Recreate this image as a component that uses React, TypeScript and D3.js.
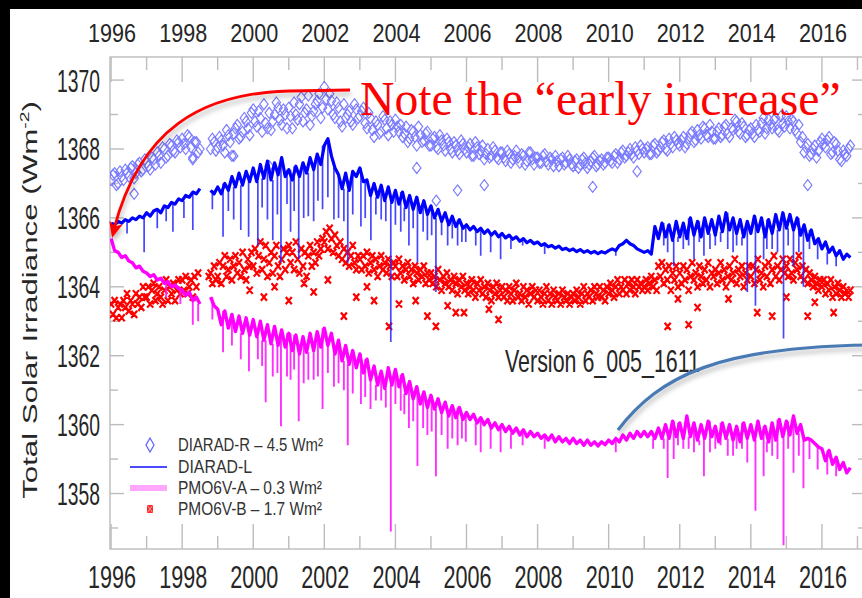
import React from "react";
import * as d3 from "d3";

// ---- axis ticks -------------------------------------------------------
const YEAR_LABELS = [1996, 1998, 2000, 2002, 2004, 2006, 2008, 2010, 2012, 2014, 2016];
const YEAR_TICKS = d3.range(1996, 2018);
const TSI_LABELS = [1358, 1360, 1362, 1364, 1366, 1368, 1370];
const TSI_TICKS = d3.range(1357, 1371);

// ---- series (W m^-2) ----------------------------------------------------
// Regularly tabulated readings: value i belongs to START + i * STEP (years).
const SERIES_START = 1996.0;
const HALF_START = 1996.05;
const LINE_STEP = 0.1;
const MARKER_STEP_B = 0.05;

// DIARAD-R (shifted by +4.5 W m^-2), open diamonds: readings on whole tenths
const diaradR: (number | null)[] = [
  1367.1, 1367.3, 1367.0, 1367.2, 1367.4, 1367.2, 1367.5, 1367.3, 1367.6, 1367.4,
  1367.6, 1367.4, 1367.7, 1367.9, 1367.6, 1368.0, 1367.8, 1368.1, 1367.9, 1368.2,
  1368.3, 1368.0, 1368.35, 1367.75, 1368.2, 1368.0, null, null, 1368.0, 1368.2,
  1368.05, 1368.25, 1367.9, 1368.4, 1367.8, 1368.6, 1368.3, 1368.5, 1368.8, 1368.4,
  1369.15, 1368.65, 1368.9, 1369.3, 1368.6, 1368.55, 1369.0, 1369.2, 1368.7, 1369.0,
  1369.2, 1368.6, 1369.0, 1369.3, 1368.8, 1369.15, 1368.7, 1369.1, 1369.4, 1368.9,
  1369.8, 1369.15, 1369.4, 1368.9, 1369.2, 1368.65, 1368.9, 1369.1, 1368.7, 1369.15,
  1368.95, 1369.2, 1368.6, 1368.9, 1368.35, 1368.7, 1368.5, 1368.85, 1368.4, 1368.7,
  1368.85, 1368.5, 1368.35, 1368.65, 1368.3, 1368.5, 1368.1, 1368.4, 1368.25, 1368.5,
  1368.1, 1368.35, 1368.0, 1368.25, 1367.95, 1368.2, 1367.9, 1368.1, 1367.85, 1368.15,
  1367.9, 1368.15, 1367.8, 1368.05, 1367.95, 1367.7, 1368.0, 1367.8, 1367.95, 1367.7,
  1367.9, 1367.65, 1367.85, 1367.7, 1367.95, 1367.6, 1367.8, 1367.65, 1367.9, 1367.55,
  1367.75, 1367.6, 1367.85, 1367.55, 1367.7, 1367.8, 1367.5, 1367.75, 1367.6, 1367.7,
  1367.5, 1367.7, 1367.55, 1367.75, 1367.45, 1367.65, 1367.8, 1367.55, 1367.7, 1367.6,
  1367.75, 1367.6, 1367.85, 1367.7, 1367.95, 1367.8, 1368.0, 1367.75, 1367.95, 1368.1,
  1367.9, 1368.05, 1367.85, 1368.15, 1367.95, 1368.2, 1368.0, 1368.3, 1368.05, 1368.25,
  1368.1, 1368.35, 1368.15, 1368.45, 1368.2, 1368.55, 1368.3, 1368.6, 1368.35, 1368.5,
  1368.3, 1368.6, 1368.4, 1368.7, 1368.35, 1368.55, 1368.8, 1368.45, 1368.65, 1368.4,
  1368.6, 1368.35, 1368.55, 1368.75, 1368.45, 1368.85, 1368.6, 1368.9, 1368.5, 1368.75,
  1368.95, 1368.6, 1368.8, 1368.45, 1368.2, 1367.9, 1368.15, 1367.85, 1368.1, 1367.95,
  1368.3, 1368.05, 1368.35, 1367.9, 1368.15, 1367.7, 1367.95, 1367.8, 1368.1,
];
// DIARAD-R readings in between (x.x5 years)
const diaradRHalf: (number | null)[] = [
  1367.25, 1366.95, 1367.35, 1367.1, 1367.3, 1367.45, 1367.15, 1367.55, 1367.35, 1367.7,
  1367.5, 1367.75, 1367.55, 1367.8, 1368.05, 1367.75, 1368.15, 1367.95, 1368.25, 1368.05,
  1368.15, 1368.4, 1368.05, 1368.2, 1367.9, null, null, null, 1368.3, 1367.95,
  1368.35, 1368.1, 1368.55, 1368.2, 1368.45, 1368.7, 1368.35, 1368.9, 1368.6, 1369.05,
  1368.8, 1369.1, 1368.5, 1368.75, 1369.05, 1368.8, 1369.35, 1368.85, 1369.15, 1368.6,
  1368.95, 1369.35, 1368.85, 1369.5, 1369.05, 1369.55, 1368.95, 1369.3, 1369.6, 1369.2,
  1369.45, 1369.6, 1369.0, 1369.35, 1368.8, 1369.3, 1369.0, 1368.8, 1369.3, 1368.9,
  1369.1, 1368.75, 1369.05, 1368.55, 1368.8, 1368.45, 1368.95, 1368.6, 1368.8, 1368.5,
  1368.65, 1368.7, 1368.45, 1368.2, 1368.55, 1368.35, 1368.65, 1368.2, 1368.45, 1368.1,
  1368.3, 1368.05, 1368.4, 1368.1, 1368.3, 1368.0, 1368.2, 1367.95, 1368.25, 1368.0,
  1368.05, 1367.8, 1368.2, 1367.85, 1368.1, 1367.85, 1367.75, 1368.05, 1367.75, 1367.9,
  1367.75, 1367.95, 1367.6, 1367.8, 1367.75, 1367.85, 1367.55, 1367.9, 1367.7, 1367.75,
  1367.6, 1367.8, 1367.65, 1367.75, 1367.5, 1367.65, 1367.7, 1367.55, 1367.8, 1367.55,
  1367.65, 1367.45, 1367.7, 1367.6, 1367.55, 1367.75, 1367.5, 1367.65, 1367.55, 1367.75,
  1367.65, 1367.8, 1367.6, 1367.9, 1367.75, 1367.9, 1367.85, 1368.05, 1367.85, 1368.0,
  1368.0, 1367.85, 1368.1, 1367.9, 1368.05, 1368.25, 1367.95, 1368.15, 1368.35, 1368.15,
  1368.25, 1368.05, 1368.3, 1368.5, 1368.25, 1368.4, 1368.65, 1368.4, 1368.7, 1368.3,
  1368.5, 1368.35, 1368.65, 1368.45, 1368.6, 1368.85, 1368.5, 1368.75, 1368.35, 1368.55,
  1368.45, 1368.7, 1368.5, 1368.9, 1368.6, 1368.7, 1368.85, 1368.55, 1368.95, 1368.65,
  1368.8, 1368.85, 1368.55, 1368.7, 1368.35, 1368.05, 1367.8, 1368.0, 1367.75, 1368.2,
  1368.15, 1368.25, 1367.85, 1368.2, 1367.95, 1367.65, 1367.85, 1368.0,
];
const diaradROutliers: [number, number][] = [
  [1996.65, 1366.7], [1998.3, 1367.7], [1999.45, 1367.8], [2000.45, 1367.5],
  [2004.6, 1367.45], [2005.15, 1366.5], [2005.75, 1366.8], [2006.5, 1366.95],
  [2009.55, 1366.9], [2010.8, 1367.35], [2015.6, 1366.95],
];

// DIARAD-L, line
const diaradL: (number | null)[] = [
  1365.85, 1365.8, 1365.9, 1365.85, 1365.95, 1365.9, 1366.0, 1365.95, 1366.05, 1366.0,
  1366.15, 1366.05, 1366.2, 1366.25, 1366.15, 1366.35, 1366.3, 1366.45, 1366.4, 1366.55,
  1366.5, 1366.65, 1366.6, 1366.75, 1366.7, 1366.85, null, null, 1366.8, 1366.7,
  1366.9, 1366.7, 1367.0, 1366.8, 1367.2, 1366.9, 1367.3, 1366.95, 1367.35, 1367.05,
  1367.45, 1367.05, 1367.55, 1367.15, 1367.65, 1367.1, 1367.6, 1367.25, 1367.75, 1367.2,
  1367.4, 1367.1, 1367.5, 1367.2, 1367.6, 1367.3, 1367.75, 1367.4, 1367.85, 1367.55,
  1368.1, 1368.3, 1367.8, 1367.45, 1367.25, 1366.85, 1367.3, 1366.8, 1367.35, 1367.2,
  1367.45, 1367.05, 1367.1, 1366.65, 1367.0, 1366.6, 1366.95, 1366.5, 1366.9, 1366.45,
  1366.8, 1366.4, 1366.75, 1366.3, 1366.65, 1366.25, 1366.6, 1366.15, 1366.5, 1366.1,
  1366.35, 1366.0, 1366.25, 1365.9, 1366.15, 1365.8, 1366.05, 1365.75, 1365.95, 1365.7,
  1365.8, 1365.65, 1365.75, 1365.6, 1365.7, 1365.55, 1365.65, 1365.5, 1365.6, 1365.45,
  1365.55, 1365.42, 1365.5, 1365.38, 1365.45, 1365.32, 1365.4, 1365.28, 1365.35, 1365.25,
  1365.3, 1365.2, 1365.25, 1365.16, 1365.2, 1365.12, 1365.18, 1365.08, 1365.12, 1365.05,
  1365.1, 1365.02, 1365.08, 1365.0, 1365.05, 1364.98, 1365.03, 1364.96, 1365.02, 1364.98,
  1365.05, 1365.1, 1365.05, 1365.2, 1365.25, 1365.35, 1365.25, 1365.2, 1365.1, 1365.05,
  1365.0, 1365.05, 1364.95, 1365.75, 1365.4, 1365.85, 1365.45, 1365.8, 1365.35, 1365.9,
  1365.45, 1365.85, 1365.4, 1366.0, 1365.5, 1365.9, 1365.45, 1366.0, 1365.55, 1365.95,
  1365.5, 1366.05, 1365.6, 1366.15, 1365.65, 1366.0, 1365.55, 1365.95, 1365.45, 1365.9,
  1365.55, 1366.05, 1365.6, 1366.0, 1365.45, 1365.95, 1365.55, 1366.1, 1365.65, 1366.15,
  1365.7, 1366.1, 1365.65, 1366.0, 1365.5, 1365.8, 1365.35, 1365.65, 1365.25, 1365.4,
  1365.1, 1365.3, 1365.0, 1365.15, 1364.9, 1365.05, 1364.8, 1364.95, 1364.85,
];
// short-lived dips (sunspot passages): [year, minimum]
const diaradLDips: [number, number][] = [
  [1996.45, 1365.55], [1996.93, 1365.0], [1997.3, 1365.7], [1997.55, 1365.9], [1997.74, 1365.6],
  [1998.05, 1366.0], [1998.3, 1365.65], [1998.85, 1366.25], [1999.15, 1365.45], [1999.3, 1366.2],
  [1999.45, 1365.95], [1999.65, 1365.65], [1999.87, 1365.45], [2000.13, 1365.2], [2000.25, 1366.3],
  [2000.4, 1365.95], [2000.55, 1365.35], [2000.68, 1366.1], [2000.78, 1364.7], [2000.95, 1366.4],
  [2001.05, 1365.6], [2001.15, 1366.2], [2001.28, 1364.8], [2001.42, 1366.0], [2001.55, 1366.05],
  [2001.7, 1365.9], [2001.82, 1366.5], [2001.95, 1366.25], [2002.1, 1366.6], [2002.27, 1365.95],
  [2002.4, 1366.0], [2002.55, 1365.9], [2002.66, 1364.7], [2002.8, 1366.1], [2003.03, 1365.75],
  [2003.15, 1366.0], [2003.31, 1365.35], [2003.45, 1366.1], [2003.6, 1365.95], [2003.73, 1365.9],
  [2003.87, 1362.4], [2004.0, 1365.8], [2004.15, 1365.6], [2004.25, 1365.9], [2004.38, 1365.2],
  [2004.5, 1365.7], [2004.62, 1364.7], [2004.78, 1365.6], [2004.9, 1365.35], [2005.02, 1365.5],
  [2005.14, 1363.85], [2005.3, 1365.5], [2005.47, 1365.2], [2005.6, 1365.4], [2005.75, 1365.2],
  [2005.87, 1365.3], [2005.98, 1365.3], [2006.26, 1365.2], [2006.4, 1364.9], [2006.68, 1365.0],
  [2006.96, 1364.8], [2007.25, 1365.1], [2007.58, 1365.2], [2008.2, 1364.95], [2010.2, 1364.9],
  [2011.55, 1365.2], [2011.66, 1365.0], [2011.83, 1364.6], [2011.95, 1365.3], [2012.1, 1365.1],
  [2012.25, 1365.2], [2012.4, 1364.8], [2012.55, 1365.3], [2012.68, 1364.9], [2012.85, 1365.1],
  [2013.0, 1365.2], [2013.15, 1365.3], [2013.35, 1365.1], [2013.5, 1365.0], [2013.6, 1365.2],
  [2013.75, 1365.2], [2013.9, 1363.85], [2014.13, 1363.45], [2014.36, 1364.8], [2014.45, 1365.1],
  [2014.6, 1365.1], [2014.75, 1365.0], [2014.92, 1362.5], [2015.05, 1365.2], [2015.2, 1364.6],
  [2015.35, 1365.0], [2015.48, 1364.0], [2015.65, 1365.1], [2015.88, 1364.8], [2016.15, 1364.65],
  [2016.4, 1364.6],
];

// PMO6V-A (shifted by -0.3 W m^-2), line
const pmo6vA: (number | null)[] = [
  1365.4, 1365.05, 1365.0, 1364.85, 1364.9, 1364.75, 1364.7, 1364.55, 1364.6, 1364.45,
  1364.4, 1364.3, 1364.35, 1364.2, 1364.25, 1364.1, 1364.15, 1364.0, 1364.05, 1363.95,
  1363.9, 1363.75, 1363.85, 1363.6, 1363.7, 1363.5, null, null, 1363.7, 1363.45,
  1363.35, 1362.9, 1363.3, 1362.8, 1363.2, 1362.7, 1363.15, 1362.65, 1363.1, 1362.6,
  1363.05, 1362.55, 1363.0, 1362.45, 1362.9, 1362.35, 1362.85, 1362.3, 1362.75, 1362.25,
  1362.65, 1362.15, 1362.6, 1362.05, 1362.55, 1362.1, 1362.65, 1362.15, 1362.7, 1362.25,
  1362.8, 1362.3, 1362.65, 1362.05, 1362.45, 1361.85, 1362.3, 1361.75, 1362.15, 1361.65,
  1362.05, 1361.5, 1361.9, 1361.3, 1361.7, 1361.15, 1361.55, 1361.05, 1361.65, 1361.15,
  1361.6, 1361.1, 1361.45, 1360.9, 1361.25, 1360.75, 1361.1, 1360.6, 1360.95, 1360.5,
  1360.85, 1360.45, 1360.75, 1360.35, 1360.65, 1360.25, 1360.55, 1360.2, 1360.5, 1360.15,
  1360.35, 1360.15, 1360.3, 1360.05, 1360.2, 1360.0, 1360.15, 1359.9, 1360.05, 1359.85,
  1360.0, 1359.8, 1359.95, 1359.75, 1359.9, 1359.7, 1359.85, 1359.65, 1359.8, 1359.65,
  1359.75, 1359.6, 1359.7, 1359.55, 1359.7, 1359.5, 1359.65, 1359.5, 1359.6, 1359.45,
  1359.6, 1359.45, 1359.55, 1359.4, 1359.55, 1359.4, 1359.5, 1359.38, 1359.5, 1359.42,
  1359.55, 1359.45, 1359.6, 1359.5, 1359.7, 1359.55, 1359.75, 1359.6, 1359.8, 1359.65,
  1359.8, 1359.65, 1359.8, 1359.6, 1359.9, 1359.6, 1360.0, 1359.6, 1360.1, 1359.65,
  1360.05, 1359.6, 1360.25, 1359.65, 1360.05, 1359.55, 1360.0, 1359.6, 1360.1, 1359.65,
  1359.95, 1359.5, 1360.05, 1359.6, 1360.0, 1359.55, 1359.95, 1359.5, 1360.05, 1359.6,
  1360.0, 1359.55, 1360.1, 1359.6, 1359.95, 1359.5, 1360.05, 1359.55, 1360.15, 1359.65,
  1360.1, 1359.7, 1360.25, 1359.75, 1360.0, 1359.55, 1359.6, 1359.55, 1359.45, 1359.35,
  1359.3, 1358.95, 1359.25, 1358.85, 1359.05, 1358.7, 1358.9, 1358.6, 1358.75,
];
const pmo6vADips: [number, number][] = [
  [1997.55, 1363.7], [1997.95, 1363.5], [1998.3, 1362.9], [1998.45, 1363.0], [1998.85, 1363.05],
  [1999.15, 1362.1], [1999.4, 1362.3], [1999.65, 1361.9], [1999.88, 1361.55], [2000.13, 1361.9],
  [2000.25, 1361.7], [2000.35, 1360.65], [2000.55, 1361.4], [2000.68, 1361.5], [2000.78, 1359.95],
  [2000.95, 1361.4], [2001.05, 1361.3], [2001.15, 1361.6], [2001.28, 1360.1], [2001.42, 1361.2],
  [2001.55, 1361.3], [2001.7, 1361.3], [2001.82, 1361.4], [2001.95, 1360.45], [2002.1, 1361.5],
  [2002.27, 1361.1], [2002.4, 1361.2], [2002.55, 1361.0], [2002.66, 1359.4], [2002.8, 1360.9],
  [2003.03, 1360.6], [2003.15, 1360.8], [2003.3, 1360.45], [2003.45, 1360.7], [2003.6, 1360.7],
  [2003.73, 1360.5], [2003.87, 1356.9], [2004.0, 1360.6], [2004.15, 1360.4], [2004.25, 1360.3],
  [2004.38, 1359.9], [2004.5, 1360.1], [2004.62, 1358.8], [2004.78, 1359.9], [2004.9, 1359.7],
  [2005.02, 1359.8], [2005.14, 1358.5], [2005.3, 1359.7], [2005.47, 1359.3], [2005.6, 1359.6],
  [2005.75, 1359.4], [2005.87, 1359.6], [2005.98, 1359.5], [2006.26, 1359.4], [2006.4, 1359.2],
  [2006.68, 1359.3], [2006.96, 1359.2], [2007.25, 1359.3], [2007.58, 1359.4], [2008.2, 1359.3],
  [2010.2, 1359.2], [2011.25, 1359.3], [2011.55, 1359.3], [2011.66, 1358.45], [2011.83, 1359.0],
  [2011.95, 1359.4], [2012.1, 1359.3], [2012.25, 1359.3], [2012.4, 1359.2], [2012.55, 1359.4],
  [2012.68, 1358.5], [2012.85, 1359.2], [2013.0, 1359.3], [2013.15, 1359.4], [2013.35, 1359.1],
  [2013.5, 1359.1], [2013.6, 1359.3], [2013.75, 1359.3], [2013.9, 1358.9], [2014.13, 1357.5],
  [2014.36, 1358.5], [2014.45, 1359.2], [2014.6, 1359.1], [2014.75, 1359.0], [2014.92, 1356.5],
  [2015.05, 1359.3], [2015.2, 1358.6], [2015.35, 1359.1], [2015.48, 1358.15], [2015.65, 1359.0],
  [2015.88, 1358.7], [2016.15, 1358.55], [2016.4, 1358.5],
];

// PMO6V-B (shifted by +1.7 W m^-2), crosses, tabulated every 0.05 yr
const pmo6vB: (number | null)[] = [
  1363.5, 1363.2, 1363.6, 1363.1, 1363.4, 1363.5, 1363.1, 1363.6, 1363.4, 1363.8, 1363.3, 1363.6, 1363.5, 1363.2, 1363.8, 1363.5, 1363.7, 1363.4, 1364.0, 1363.7,
  1363.7, 1364.0, 1363.5, 1363.9, 1364.1, 1363.6, 1363.8, 1364.0, 1363.7, 1363.5, 1363.9, 1364.2, 1363.6, 1364.0, 1363.8, 1364.1, 1363.6, 1363.9, 1364.2, 1363.8,
  1364.2, 1363.9, 1364.3, 1363.8, 1364.0, 1364.2, 1363.7, 1364.3, 1364.0, 1364.4, null, null, null, null, null, 1364.3, 1364.4, 1364.1, 1364.6, 1364.2,
  1364.3, 1364.7, 1364.1, 1364.6, 1364.9, 1364.3, 1364.5, 1364.8, 1364.2, 1364.6, 1364.9, 1364.4, 1364.7, 1364.3, 1365.0, 1364.5, 1364.2, 1364.8, 1364.6, 1365.0,
  1364.6, 1365.1, 1364.4, 1364.9, 1365.3, 1364.5, 1364.8, 1365.2, 1364.3, 1364.7, 1365.0, 1364.4, 1364.9, 1365.2, 1364.6, 1364.3, 1364.8, 1365.1, 1364.5, 1365.0,
  1365.2, 1364.7, 1365.0, 1364.5, 1365.3, 1364.8, 1364.4, 1365.1, 1364.6, 1365.0, 1364.3, 1364.9, 1365.2, 1364.6, 1365.0, 1364.7, 1365.3, 1364.9, 1365.1, 1365.4,
  1365.3, 1365.6, 1365.1, 1365.7, 1365.4, 1365.0, 1365.5, 1365.2, 1364.9, 1365.3, 1364.8, 1365.1, 1364.7, 1365.0, 1364.6, 1364.9, 1365.2, 1364.7, 1364.5, 1364.9,
  1364.8, 1364.5, 1364.9, 1364.6, 1365.0, 1364.4, 1364.7, 1364.9, 1364.5, 1364.8, 1364.3, 1364.6, 1364.9, 1364.5, 1364.7, 1364.4, 1364.8, 1364.6, 1364.3, 1364.7,
  1364.6, 1364.3, 1364.8, 1364.4, 1364.6, 1364.2, 1364.5, 1364.7, 1364.3, 1364.5, 1364.1, 1364.6, 1364.4, 1364.2, 1364.5, 1364.3, 1364.6, 1364.1, 1364.4, 1364.2,
  1364.4, 1364.1, 1364.3, 1364.0, 1364.5, 1364.2, 1363.9, 1364.3, 1364.1, 1364.4, 1364.0, 1364.2, 1363.9, 1364.3, 1364.1, 1363.8, 1364.2, 1364.0, 1364.3, 1363.9,
  1364.1, 1363.8, 1364.0, 1364.2, 1363.9, 1363.7, 1364.1, 1363.9, 1364.2, 1363.8, 1364.0, 1363.7, 1364.1, 1363.9, 1363.6, 1364.0, 1363.8, 1364.1, 1363.7, 1363.9,
  1364.0, 1363.7, 1363.9, 1363.6, 1364.0, 1363.8, 1363.6, 1363.9, 1364.1, 1363.7, 1363.8, 1363.6, 1364.0, 1363.7, 1363.9, 1363.5, 1363.8, 1364.0, 1363.7, 1363.9,
  1363.6, 1363.9, 1363.7, 1363.5, 1363.8, 1364.0, 1363.6, 1363.8, 1363.5, 1363.9, 1363.7, 1363.6, 1363.8, 1363.5, 1363.9, 1363.7, 1363.6, 1363.8, 1363.5, 1363.7,
  1363.8, 1363.6, 1363.9, 1363.7, 1363.5, 1363.8, 1364.0, 1363.6, 1363.8, 1363.7, 1363.9, 1363.6, 1364.0, 1363.8, 1363.7, 1364.0, 1363.7, 1363.9, 1363.6, 1364.0,
  1363.8, 1364.1, 1363.9, 1363.7, 1364.0, 1364.2, 1363.8, 1364.0, 1363.9, 1364.2, 1363.8, 1364.1, 1363.9, 1364.2, 1364.0, 1363.8, 1364.2, 1364.0, 1364.1, 1363.9,
  1364.0, 1364.2, 1363.9, 1364.1, 1364.3, 1364.0, 1364.2, 1363.9, 1364.6, 1364.3, 1364.7, 1364.1, 1364.5, 1364.2, 1364.6, 1363.9, 1364.4, 1364.2, 1364.6, 1364.0,
  1364.4, 1364.1, 1364.6, 1364.2, 1364.5, 1363.9, 1364.3, 1364.7, 1364.2, 1364.4, 1364.0, 1364.6, 1364.3, 1364.1, 1364.5, 1364.2, 1364.7, 1364.0, 1364.4, 1364.3,
  1364.5, 1364.1, 1364.4, 1364.7, 1364.2, 1364.5, 1364.0, 1364.3, 1364.6, 1364.2, 1364.4, 1364.8, 1364.1, 1364.5, 1364.3, 1364.6, 1364.0, 1364.4, 1364.2, 1364.6,
  1364.3, 1364.6, 1364.1, 1364.5, 1364.8, 1364.2, 1364.4, 1364.0, 1364.6, 1364.3, 1364.7, 1364.1, 1364.5, 1364.9, 1364.3, 1364.6, 1364.2, 1364.5, 1364.8, 1364.4,
  1364.6, 1364.3, 1364.8, 1364.4, 1364.2, 1364.7, 1364.5, 1364.9, 1364.3, 1364.6, 1364.2, 1364.5, 1364.1, 1364.4, 1364.2, 1364.0, 1364.3, 1364.1, 1363.9, 1364.2,
  1364.0, 1364.2, 1363.8, 1364.1, 1363.9, 1364.2, 1363.7, 1364.0, 1363.8, 1364.1, 1363.9, 1363.7, 1364.0, 1363.8, 1363.9, 1363.7, 1363.9,
];
const pmo6vBOutliers: [number, number][] = [
  [1999.9, 1363.9], [2000.3, 1363.7], [2000.6, 1364.0], [2001.0, 1363.6], [2001.43, 1364.1],
  [2001.7, 1363.85], [2002.1, 1364.2], [2002.55, 1363.15], [2002.9, 1363.7], [2003.2, 1364.0],
  [2003.4, 1363.6], [2003.82, 1362.85], [2004.1, 1363.5], [2004.57, 1363.6], [2004.9, 1363.15],
  [2005.14, 1362.85], [2005.47, 1363.45], [2005.7, 1363.25], [2005.93, 1363.25], [2006.63, 1363.35],
  [2006.9, 1363.05], [2011.66, 1362.85], [2011.95, 1363.65], [2012.25, 1362.9], [2012.5, 1363.4],
  [2013.37, 1363.65], [2014.18, 1363.25], [2014.6, 1363.15], [2015.0, 1363.7], [2015.6, 1363.15],
  [2015.8, 1363.55], [2016.33, 1363.25],
];

const LEGEND = [
  { label: "DIARAD-R \u2013 4.5 Wm\u00b2", kind: "diamond" },
  { label: "DIARAD-L", kind: "line" },
  { label: "PMO6V-A \u2013 0.3 Wm\u00b2", kind: "thick" },
  { label: "PMO6V-B \u2013 1.7 Wm\u00b2", kind: "cross" },
];
const LEGEND_WIDTHS = [145, 74, 144, 144];

const W = 862;
const H = 598;
const SANS = "'Liberation Sans', Arial, Helvetica, sans-serif";
const SERIF = "'Liberation Serif', 'Times New Roman', serif";
const AXIS_GREY = "#bcbcbc";
const LABEL_INK = "#262626";

type Pt = [number, number | null];
const tabulate = (vals: (number | null)[], start: number, step: number): Pt[] =>
  vals.map((v, i) => [start + i * step, v]);

function StretchText(props: {
  x: number; y: number; sx?: number; sy?: number; size: number; len?: number;
  anchor?: "start" | "middle" | "end"; fill?: string; children: React.ReactNode;
}) {
  const { x, y, sx = 1, sy = 1, size, len, anchor = "start", fill = LABEL_INK } = props;
  return (
    <text
      transform={`translate(${x},${y}) scale(${sx},${sy})`}
      fontSize={size}
      fontFamily={SANS}
      textAnchor={anchor}
      fill={fill}
      textLength={len}
      lengthAdjust={len ? "spacingAndGlyphs" : undefined}
    >
      {props.children}
    </text>
  );
}

export default function App() {
  const x = d3.scaleLinear().domain([1995.97, 2017.24]).range([110, 866]);
  const y = d3.scaleLinear().domain([1356.39, 1370.67]).range([549, 57]);
  const [x0, x1] = x.range();
  const [yb, yt] = y.range();

  const line = d3
    .line<Pt>()
    .defined((d) => d[1] != null)
    .x((d) => x(d[0]))
    .y((d) => y(d[1] as number));

  const diaradLPts = tabulate(diaradL, SERIES_START, LINE_STEP);
  const pmoAPts = tabulate(pmo6vA, SERIES_START, LINE_STEP);

  // vertical dip strokes hang from the nearest tabulated reading
  const dipPath = (vals: (number | null)[], dips: [number, number][]) =>
    dips
      .map(([t, v]) => {
        const i = Math.round((t - SERIES_START) / LINE_STEP);
        const base = vals[i];
        if (base == null) return "";
        return `M${x(t)},${y(base)}V${y(v)}`;
      })
      .join("");

  const diamondPath = (pts: [number, number][]) =>
    pts
      .map(([t, v]) => {
        const px = x(t), py = y(v);
        return `M${px},${py - 5.5}L${px + 4.2},${py}L${px},${py + 5.5}L${px - 4.2},${py}Z`;
      })
      .join("");

  const crossPath = (pts: [number, number][]) =>
    pts
      .map(([t, v]) => {
        const px = x(t), py = y(v);
        return `M${px - 3},${py - 3.6}L${px + 3},${py + 3.6}M${px - 3},${py + 3.6}L${px + 3},${py - 3.6}`;
      })
      .join("");

  const known = (pts: Pt[]) => pts.filter((d) => d[1] != null) as [number, number][];
  const diamonds = [
    ...known(tabulate(diaradR, SERIES_START, LINE_STEP)),
    ...known(tabulate(diaradRHalf, HALF_START, LINE_STEP)),
  ];
  const crosses = known(tabulate(pmo6vB, SERIES_START, MARKER_STEP_B));

  // red call-out arrow: curve and arrowhead
  const start: [number, number] = [290, 91];
  const c1: [number, number] = [200, 93];
  const c2: [number, number] = [140, 130];
  const end: [number, number] = [114, 229];
  const tip: [number, number] = [112, 238];
  const dx = end[0] - c2[0], dy = end[1] - c2[1];
  const dl = Math.hypot(dx, dy);
  const dir = [dx / dl, dy / dl];
  const nrm = [-dir[1], dir[0]];
  const back = [tip[0] - dir[0] * 16, tip[1] - dir[1] * 16];
  const notch = [tip[0] - dir[0] * 12, tip[1] - dir[1] * 12];
  const head = [
    tip,
    [back[0] + nrm[0] * 7, back[1] + nrm[1] * 7],
    notch,
    [back[0] - nrm[0] * 7, back[1] - nrm[1] * 7],
  ]
    .map((p) => p.join(","))
    .join(" ");

  return (
    <svg
      width={W}
      height={H}
      viewBox={`0 0 ${W} ${H}`}
      style={{ position: "absolute", left: 0, top: 0, display: "block" }}
    >
      <defs>
        <clipPath id="plot-clip">
          <rect x={x0} y={yt} width={x1 - x0} height={yb - yt} />
        </clipPath>
        <filter id="soft-shadow" x="-20%" y="-20%" width="140%" height="170%">
          <feDropShadow dx="1" dy="4" stdDeviation="2.6" floodColor="#000" floodOpacity="0.28" />
        </filter>
      </defs>

      <rect x={0} y={0} width={W} height={H} fill="#000" />
      <rect x={10} y={9} width={W - 10} height={H - 9} fill="#fff" />

      {/* frame and ticks */}
      <g stroke={AXIS_GREY} strokeWidth={1.4} fill="none">
        <rect x={x0} y={yt} width={x1 - x0} height={yb - yt} />
        {YEAR_TICKS.map((t) => {
          const len = t % 2 === 0 ? 25 : 13;
          return (
            <g key={t}>
              <line x1={x(t)} x2={x(t)} y1={yt} y2={yt + len} />
              <line x1={x(t)} x2={x(t)} y1={yb} y2={yb - len} />
            </g>
          );
        })}
        {TSI_TICKS.map((v) => {
          const len = v % 2 === 0 ? 14 : 8;
          return (
            <g key={v}>
              <line x1={x0} x2={x0 + len} y1={y(v)} y2={y(v)} />
              <line x1={x1} x2={x1 - len} y1={y(v)} y2={y(v)} />
            </g>
          );
        })}
      </g>

      {/* tick labels */}
      {YEAR_LABELS.map((t) => (
        <g key={t}>
          <StretchText x={x(t) + 1} y={42} sy={1.16} size={21.6} len={48} anchor="middle">{t}</StretchText>
          <StretchText x={x(t) + 1} y={588} sy={1.49} size={21.6} len={48} anchor="middle">{t}</StretchText>
        </g>
      ))}
      {TSI_LABELS.map((v) => (
        <StretchText key={v} x={100} y={y(v) + 11.5} sy={1.66} size={19.3} len={43} anchor="end">{v}</StretchText>
      ))}
      <text
        transform="translate(37,300) rotate(-90) scale(1.49,1)"
        fontSize={21}
        fontFamily={SANS}
        textAnchor="middle"
        fill={LABEL_INK}
      >
        Total Solar Irradiance (Wm
        <tspan fontSize={13} dy={-8}>-2</tspan>
        <tspan dy={8}>)</tspan>
      </text>

      {/* data */}
      <g clipPath="url(#plot-clip)">
        <path d={diamondPath(diamonds)} fill="none" stroke="#6464ff" strokeWidth={1.15} strokeOpacity={0.85} />
        <path d={diamondPath(diaradROutliers)} fill="none" stroke="#6464ff" strokeWidth={1.15} strokeOpacity={0.85} />

        <path d={crossPath(crosses)} fill="none" stroke="#ff0000" strokeWidth={2.2} />
        <path d={crossPath(pmo6vBOutliers)} fill="none" stroke="#ff0000" strokeWidth={2.2} />

        <path d={dipPath(diaradL, diaradLDips)} fill="none" stroke="#2626ff" strokeWidth={1.7} strokeOpacity={0.85} />
        <path d={line(diaradLPts) ?? ""} fill="none" stroke="#0000ff" strokeWidth={3.2} strokeLinejoin="round" />

        <path d={dipPath(pmo6vA, pmo6vADips)} fill="none" stroke="#ff1aff" strokeWidth={1.9} strokeOpacity={0.9} />
        <path d={line(pmoAPts) ?? ""} fill="none" stroke="#ff00ff" strokeWidth={3.4} strokeLinejoin="round" />
      </g>

      {/* legend */}
      <g>
        {LEGEND.map((item, i) => {
          const cy = [445, 467, 488, 509][i];
          const base = [451, 473, 494, 515][i];
          return (
            <g key={item.label}>
              {item.kind === "diamond" && (
                <path d={`M150,${cy - 7}L154,${cy}L150,${cy + 7}L146,${cy}Z`} fill="none" stroke="#6464ff" strokeWidth={1.3} />
              )}
              {item.kind === "line" && (
                <line x1={130} x2={167} y1={cy} y2={cy} stroke="#4a4aff" strokeWidth={2} />
              )}
              {item.kind === "thick" && (
                <line x1={130} x2={167} y1={cy} y2={cy} stroke="#ffa6ff" strokeWidth={6} />
              )}
              {item.kind === "cross" && (
                <g>
                  <rect x={147} y={cy - 4} width={6} height={8} fill="#ff2a2a" />
                  <path d={`M147.5,${cy - 3.5}L152.5,${cy + 3.5}M147.5,${cy + 3.5}L152.5,${cy - 3.5}`} stroke="#ff9a9a" strokeWidth={1} />
                </g>
              )}
              <StretchText x={178} y={base} sy={1.3} size={14.5} len={LEGEND_WIDTHS[i]} fill="#333">{item.label}</StretchText>
            </g>
          );
        })}
      </g>

      <StretchText x={505} y={372} sy={1.45} size={21} len={195} fill={LABEL_INK}>Version 6_005_1611</StretchText>

      {/* call-outs */}
      <path
        d="M618,430 C660,375 720,347 870,345"
        fill="none"
        stroke="#4a7ab4"
        strokeWidth={3.2}
        filter="url(#soft-shadow)"
      />
      <g filter="url(#soft-shadow)">
        <path
          d={`M350,90 L${start.join(",")} C${c1.join(",")} ${c2.join(",")} ${end.join(",")}`}
          fill="none"
          stroke="#ff0000"
          strokeWidth={2.8}
        />
        <polygon points={head} fill="#ff0000" />
      </g>
      <text x={360} y={115} fontFamily={SERIF} fontSize={47.7} fill="#ff0000">
        Note the {"\u201Cearly increase\u201D"}
      </text>
    </svg>
  );
}
